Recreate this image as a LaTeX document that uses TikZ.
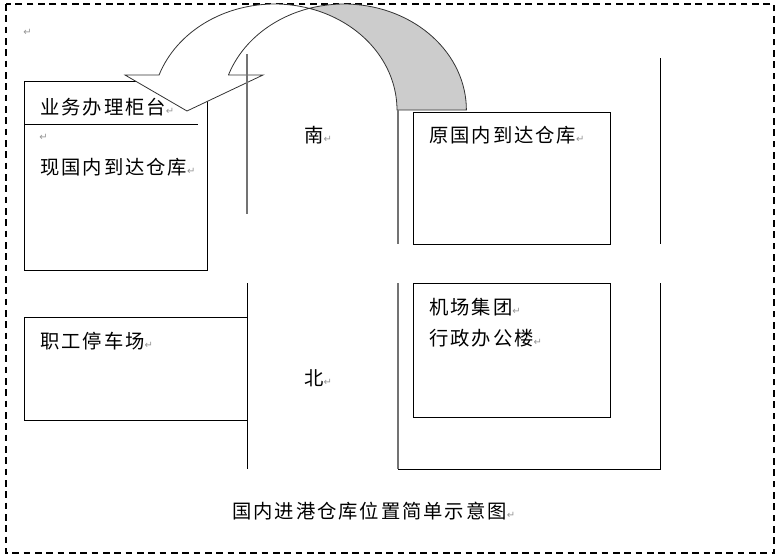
\documentclass[tikz,border=0pt]{standalone}
\usepackage{fontspec}
\newfontfamily\cjk[LetterSpace=10]{Noto Sans CJK SC}
\newfontfamily\symfont{DejaVu Sans}
\definecolor{retgray}{RGB}{150,150,150}
\newcommand{\ret}{{\symfont\fontsize{7.5}{8}\selectfont\textcolor{retgray}{↵}}}

\begin{document}
\begin{tikzpicture}[x=0.75pt, y=-0.75pt,
    box/.style={draw=black, line width=0.75pt},
    road/.style={draw=black!55, line width=0.9pt},
    wall/.style={draw=black, line width=0.75pt},
    lbl/.style={font=\cjk\fontsize{14.5}{16}\selectfont, anchor=west, inner sep=0pt}]
        % Màu sắc
        \definecolor{backgray}{RGB}{204,204,204}

        % Khung ngoài (nét đứt)
        \useasboundingbox (0,0) rectangle (782,557);
        \draw[line width=0.9pt, dash pattern=on 5pt off 3.5pt] (6,4) rectangle (774,553);
        \node[lbl] (ret0) at (23,32) {\ret};

        % Ô bên trái phía trên: quầy + kho hiện tại
        \draw[box] (24,81) rectangle (207,270);
        \draw[box] (24,124) -- (198,124);

        % Mũi tên cong (mặt sau màu xám, mặt trước màu trắng)
        \def\cxa{274.6}
        \def\cxb{344}
        \def\rx{122.4}
        \def\ry{106}
        \fill[backgray, draw=black!80, line width=0.6pt]
            plot[domain=106.5:0, samples=40] ({\cxb+\rx*cos(\x)}, {110-\ry*sin(\x)})
            -- (397,110)
            -- plot[domain=0:73.5, samples=40] ({\cxa+\rx*cos(\x)}, {110-\ry*sin(\x)})
            -- cycle;
        \fill[white, draw=black!80, line width=0.6pt]
            (125,75) -- (187,111) -- (263,75) -- (228.5,75)
            -- plot[domain=160.7:106.5, samples=40] ({\cxb+\rx*cos(\x)}, {110-\ry*sin(\x)})
            -- plot[domain=73.5:160.7, samples=40] ({\cxa+\rx*cos(\x)}, {110-\ry*sin(\x)})
            -- cycle;

        % Các đường (đường đi)
        \draw[road] (247,54) -- (247,214);
        \draw[road] (398,110) -- (398,244);
        \draw[wall] (660,58) -- (660,244);
        \draw[wall] (247,283) -- (247,469);
        \draw[road] (398,283) -- (398,469);
        \draw[wall] (398,469) -- (660,469) -- (660,283);

        % Ô bên trái phía dưới
        \draw[box] (24,317) rectangle (247,420);

        % Các ô bên phải
        \draw[box] (413,112) rectangle (610,244);
        \draw[box] (413,283) rectangle (610,417);

        % Nhãn
        \node[lbl] (counter) at (40,107) {业务办理柜台\ret};
        \node[lbl] (ret1) at (39,137) {\ret};
        \node[lbl] (newstore) at (40,167) {现国内到达仓库\ret};
        \node[lbl] (south) at (304,135) {南\ret};
        \node[lbl] (oldstore) at (429,135) {原国内到达仓库\ret};
        \node[lbl] (group) at (429,307) {机场集团\ret};
        \node[lbl] (office) at (429,338) {行政办公楼\ret};
        \node[lbl] (parking) at (40,341) {职工停车场\ret};
        \node[lbl] (north) at (304,378) {北\ret};
        \node[lbl] (title) at (232,511) {国内进港仓库位置简单示意图\ret};
    \end{tikzpicture}
\end{document}
